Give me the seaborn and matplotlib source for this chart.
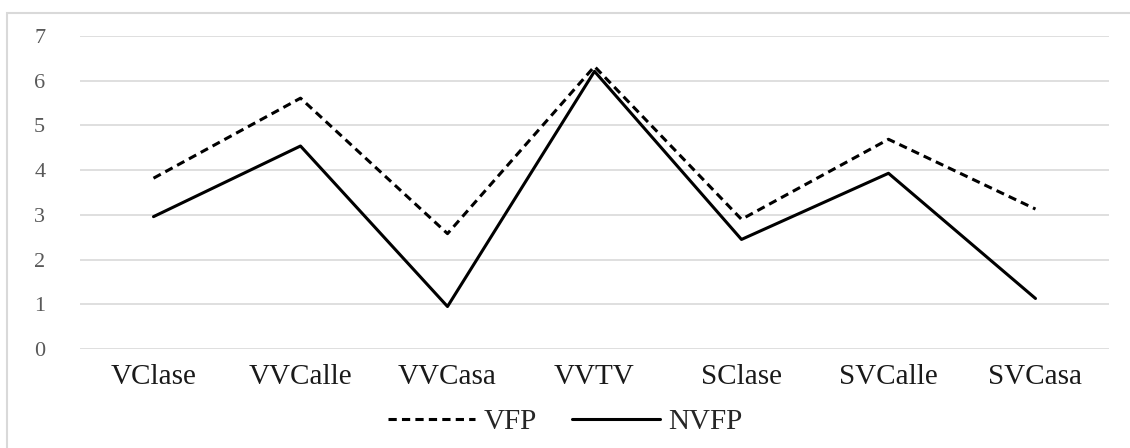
import pandas as pd
import numpy as np
import matplotlib
matplotlib.use("Agg")
import matplotlib.pyplot as plt
import seaborn as sns
from matplotlib.patches import Rectangle

categories = ["VClase", "VVCalle", "VVCasa", "VVTV", "SClase", "SVCalle", "SVCasa"]
vfp = [3.82, 5.61, 2.58, 6.32, 2.90, 4.69, 3.13]
nvfp = [2.96, 4.54, 0.95, 6.21, 2.45, 3.93, 1.13]

df = pd.DataFrame({
    "cat": categories * 2,
    "value": vfp + nvfp,
    "series": ["VFP"] * len(vfp) + ["NVFP"] * len(nvfp),
})

sns.set_style("white")
plt.rcParams['font.family'] = ['Liberation Serif', 'DejaVu Serif']

fig = plt.figure(figsize=(11.3, 4.48), dpi=100)
ax = fig.add_axes([0.0708, 0.221, 0.9106, 0.6986])

# outer chart frame (only left/top visible in the reference)
fig.patches.append(Rectangle((7 / 1130, -0.1), 1.2, 1 - 13 / 448 + 0.1,
                             transform=fig.transFigure, fill=False,
                             edgecolor="#d9d9d9", linewidth=1.5, zorder=0))

sns.lineplot(data=df, x="cat", y="value", style="series", color="black",
             dashes={"VFP": (2.7, 1.7), "NVFP": ""}, linewidth=2.2,
             sort=False, ax=ax, legend=True)

ax.set_ylim(0, 7)
ax.set_xlim(-0.5, len(categories) - 0.5)
ax.set_yticks(range(0, 8))
ax.grid(axis="y", color="#d9d9d9", linewidth=1.2)
ax.set_axisbelow(True)
for s in ax.spines.values():
    s.set_visible(False)
ax.tick_params(axis="y", length=0, labelsize=16, labelcolor="#595959", pad=25)
ax.tick_params(axis="x", length=0, labelsize=21, labelcolor="#1a1a1a", pad=11)
ax.set_xlabel("")
ax.set_ylabel("")

handles, labels = ax.get_legend_handles_labels()
ax.get_legend().remove()
fig.legend(handles, labels, loc="center", bbox_to_anchor=(0.5, 0.058),
           ncol=2, frameon=False, fontsize=21, handlelength=3.0,
           handletextpad=0.3, columnspacing=1.2)

fig.savefig("out.png", dpi=100)
